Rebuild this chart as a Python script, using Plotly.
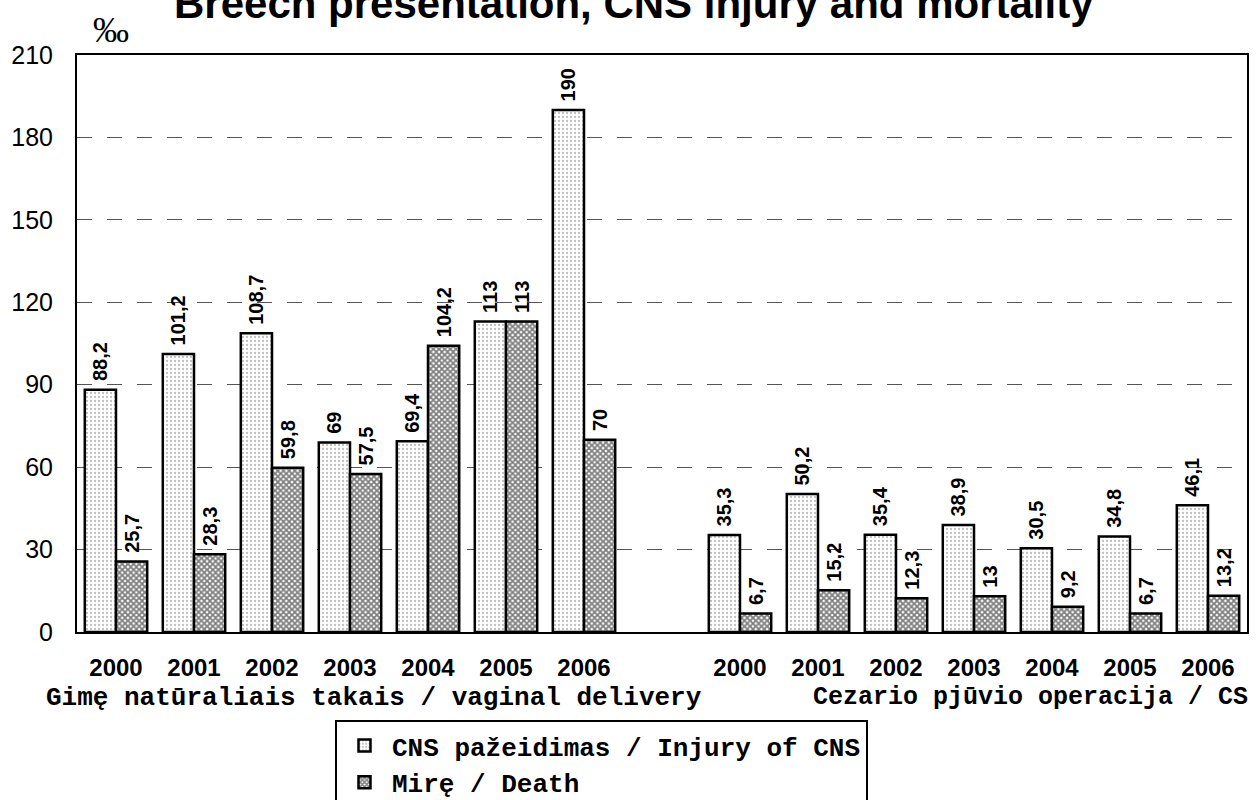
import plotly.graph_objects as go

# --- data ---
years = ["2000", "2001", "2002", "2003", "2004", "2005", "2006"]
cns_vaginal = [88.2, 101.2, 108.7, 69, 69.4, 113, 190]
death_vaginal = [25.7, 28.3, 59.8, 57.5, 104.2, 113, 70]
cns_cs = [35.3, 50.2, 35.4, 38.9, 30.5, 34.8, 46.1]
death_cs = [6.7, 15.2, 12.3, 13, 9.2, 6.7, 13.2]

group_labels = ["Gimę natūraliais takais / vaginal delivery", "Cezario pjūvio operacija / CS"]
series_names = ["CNS pažeidimas / Injury of CNS", "Mirę / Death"]
y_ticks = [0, 30, 60, 90, 120, 150, 180, 210]

# two groups of 7 years with one empty slot between them
n = len(years)
x_pos = list(range(n)) + list(range(n + 1, 2 * n + 1))
tick_text = years + years


def fmt(v):
    # decimal comma; leading nbsp gives a little air above the bar
    return "\u00a0" + f"{v:g}".replace(".", ",")


cns = cns_vaginal + cns_cs
death = death_vaginal + death_cs

sans = "Arial, Liberation Sans, sans-serif"
mono = "Courier New, Liberation Mono, monospace"

fig = go.Figure()
fig.add_trace(go.Bar(
    x=x_pos, y=cns, name=series_names[0],
    text=[fmt(v) for v in cns],
    marker=dict(color="white", line=dict(color="black", width=2.5),
                pattern=dict(shape=".", fgcolor="#808080", bgcolor="white",
                             size=4, solidity=0.25)),
))
fig.add_trace(go.Bar(
    x=x_pos, y=death, name=series_names[1],
    text=[fmt(v) for v in death],
    marker=dict(color="white", line=dict(color="black", width=2.5),
                pattern=dict(shape="x", fgcolor="black", bgcolor="white",
                             size=4, solidity=0.7)),
))
fig.update_traces(textposition="outside", textangle=-90, cliponaxis=False,
                  constraintext="none",
                  textfont=dict(family=sans, size=20, color="black", weight="bold"))

fig.update_layout(
    width=1259, height=800,
    paper_bgcolor="white", plot_bgcolor="white",
    barmode="group", bargap=0.2, bargroupgap=0,
    margin=dict(l=77, r=12, t=55, b=168, autoexpand=False),
    xaxis=dict(range=[-0.5, 2 * n + 0.5], tickvals=x_pos, ticktext=tick_text,
               showline=True, linecolor="black", linewidth=2, mirror=True,
               showgrid=False, ticks="", ticklabelstandoff=13, automargin=False,
               tickfont=dict(family=sans, size=24, color="black", weight="bold")),
    yaxis=dict(range=[0, 210], tickvals=y_ticks,
               showline=True, linecolor="black", linewidth=2, mirror=True,
               showgrid=True, gridcolor="#555555", gridwidth=1, griddash="15px,15px",
               zeroline=False, ticks="", ticklabelstandoff=17, automargin=False,
               tickfont=dict(family=sans, size=25, color="black")),
    legend=dict(xref="container", yref="container", x=335 / 1259, xanchor="left",
                y=1 - 720 / 800, yanchor="top", itemwidth=45,
                bordercolor="black", borderwidth=2, bgcolor="white",
                font=dict(family=mono, size=26, color="black", weight="bold")),
    showlegend=True,
)

# title sits partly above the page edge, as in the original
fig.add_annotation(text="<b>Breech presentation, CNS injury and mortality</b>",
                   x=0.476, y=1.0884, xref="paper", yref="paper",
                   showarrow=False, xanchor="center", yanchor="middle",
                   font=dict(family=sans, size=42, color="black"))
fig.add_annotation(text=group_labels[0], x=0.254, y=-0.114, xref="paper", yref="paper",
                   showarrow=False, xanchor="center", yanchor="middle",
                   font=dict(family=mono, size=26, color="black", weight="bold"))
fig.add_annotation(text=group_labels[1], x=1.0026, y=-0.114, xref="paper", yref="paper",
                   showarrow=False, xanchor="right", yanchor="middle",
                   font=dict(family=mono, size=25, color="black", weight="bold"))
fig.add_annotation(text="‰", x=0.029, y=1.043, xref="paper", yref="paper",
                   showarrow=False, xanchor="center", yanchor="middle",
                   font=dict(family="Times New Roman, Liberation Serif, serif", size=36,
                             color="black"))

fig.write_html("out.html", config={"displayModeBar": False},
               post_script="document.body.style.margin='0';")
